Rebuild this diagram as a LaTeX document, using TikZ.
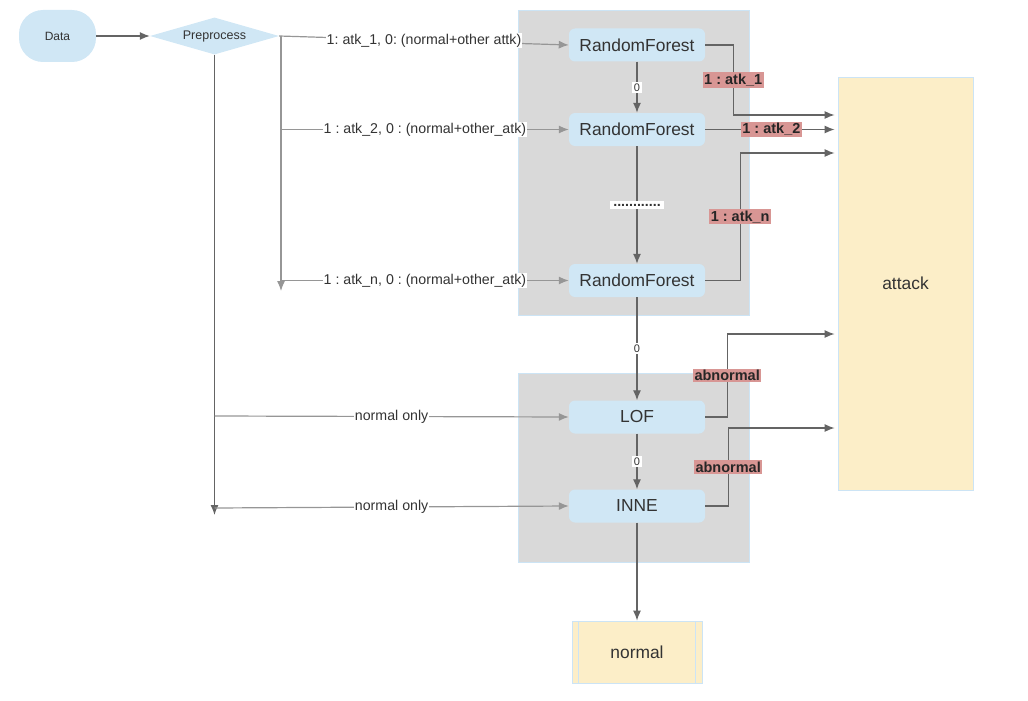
\documentclass[tikz,border=0pt]{standalone}
\usepackage{fontspec}
\setmainfont{Liberation Sans}
\usetikzlibrary{shapes.geometric,arrows.meta}
\definecolor{nodeb}{RGB}{208,231,245}
\definecolor{bordb}{RGB}{204,228,245}
\definecolor{grpg}{RGB}{217,217,217}
\definecolor{outy}{RGB}{252,238,200}
\definecolor{resr}{RGB}{216,150,148}
\definecolor{lineg}{RGB}{100,100,100}
\definecolor{lineh}{RGB}{150,150,150}
\definecolor{txt}{RGB}{51,51,51}
\frenchspacing
\begin{document}
\begin{tikzpicture}[x=1pt,y=-1pt,>={Latex[length=10pt,width=8pt]},
    line/.style={draw=lineg,line width=1.2pt},
    model/.style={rectangle,rounded corners=6pt,fill=nodeb,minimum width=136pt,minimum height=33pt,font=\fontsize{17.4}{20}\selectfont,text=txt},
    grp/.style={draw=bordb,fill=grpg,line width=0.8pt},
    lab/.style={fill=white,inner sep=1pt,font=\fontsize{14.2}{16}\selectfont,text=txt},
    zero/.style={fill=white,inner sep=1.5pt,font=\fontsize{11}{13}\selectfont,text=txt},
    res/.style={fill=resr,inner sep=1.5pt,font=\bfseries\fontsize{14.5}{16}\selectfont,text=black!85},
    outbox/.style={draw=bordb,fill=outy,line width=0.8pt,font=\fontsize{17.4}{20}\selectfont,text=txt}]
      \useasboundingbox (0,0) rectangle (1028,701);
      % groups
      \path[grp] (518,10) rectangle (749,315);
      \path[grp] (518,373) rectangle (749,562);
      % nodes
      \node[fill=nodeb,rounded corners=24pt,minimum width=77pt,minimum height=52pt,font=\fontsize{12}{14}\selectfont,text=txt] (data) at (57.5,36) {Data};
      \node[diamond,fill=nodeb,aspect=3.5,inner sep=0pt,minimum width=129pt,minimum height=37pt,font=\fontsize{12.5}{14}\selectfont,text=txt] (pre) at (214.5,36) {Preprocess};
      \node[model] (rf1) at (637,45) {RandomForest};
      \node[model] (rf2) at (637,129.5) {RandomForest};
      \node[model] (rf3) at (637,280.5) {RandomForest};
      \node[model] (lof) at (637,417) {LOF};
      \node[model] (inne) at (637,506) {INNE};
      \node[outbox,minimum width=130pt,minimum height=62pt] (nrm) at (637,652) {normal};
      \draw[draw=bordb,line width=0.8pt] ([xshift=7pt]nrm.north west) -- ([xshift=7pt]nrm.south west);
      \draw[draw=bordb,line width=0.8pt] ([xshift=-7pt]nrm.north east) -- ([xshift=-7pt]nrm.south east);
      \node[outbox,minimum width=135pt,minimum height=413pt] (atk) at (905.5,283.5) {attack};
      % branch points
      \coordinate (b1) at (281,36);
      \coordinate (b2) at (281,129.5);
      \coordinate (b3) at (281,280.5);
      \coordinate (bend) at (281,291);
      \coordinate (p1) at (214.5,416);
      \coordinate (p2) at (214.5,508);
      \coordinate (pend) at (214.5,515);
      % edges
      \draw[line,->] (data) -- (pre);
      \draw[line,draw=lineh,->] (b1) -- (bend);
      \draw[line,draw=lineh,->] (pre.east) -- node[lab] {1: atk\_1, 0: (normal+other attk)} (rf1.west);
      \draw[line,draw=lineh,->] (b2) -- node[lab] {1 : atk\_2, 0 : (normal+other\_atk)} (rf2.west);
      \draw[line,draw=lineh,->] (b3) -- node[lab] {1 : atk\_n, 0 : (normal+other\_atk)} (rf3.west);
      \draw[line,->] (pre.south) -- (pend);
      \draw[line,draw=lineh,->] (p1) -- node[lab] {normal only} (lof.west);
      \draw[line,draw=lineh,->] (p2) -- node[lab] {normal only} (inne.west);
      \draw[line,->] (rf1) -- node[zero] {0} (rf2);
      \draw[line,->] (rf2) -- node[lab,inner sep=3pt] {\textbf{............}} (rf3);
      \draw[line,->] (rf3) -- node[zero] {0} (lof);
      \draw[line,->] (lof) -- node[zero] {0} (inne);
      \draw[line,->] (inne) -- (nrm);
      % to attack
      \draw[line,->,shorten >=3pt] (rf1.east) -- ++(28,0) |- node[res,pos=0.25] {1 : atk\_1} (atk.west |- 0,115);
      \draw[line,->,shorten >=3pt] (rf2.east) -- node[res] {1 : atk\_2} (atk.west |- rf2.east);
      \draw[line,->,shorten >=3pt] (rf3.east) -- ++(35,0) |- node[res,pos=0.25] {1 : atk\_n} (atk.west |- 0,153);
      \draw[line,->,shorten >=3pt] (lof.east) -- ++(22,0) |- node[res,pos=0.25] {abnormal} (atk.west |- 0,334);
      \draw[line,->,shorten >=3pt] (inne.east) -- ++(23,0) |- node[res,pos=0.25] {abnormal} (atk.west |- 0,428);
\end{tikzpicture}
\end{document}
